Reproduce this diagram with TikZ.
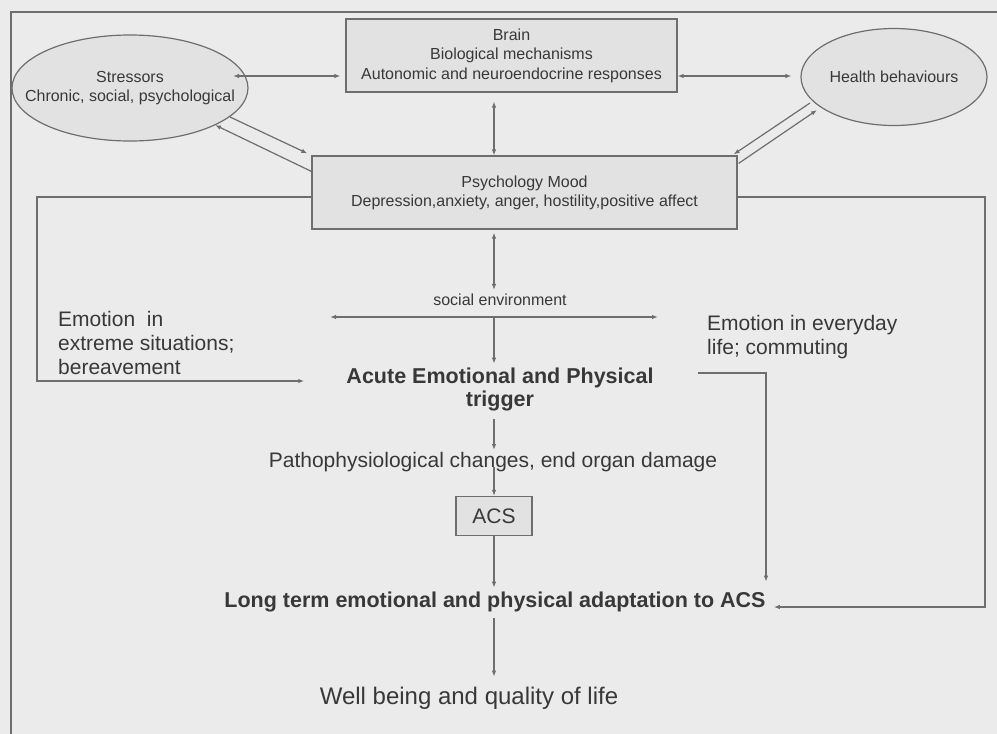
\documentclass[tikz,border=0pt]{standalone}
\usepackage{fontspec}
\setmainfont{Liberation Sans}
\usetikzlibrary{shapes.geometric,arrows.meta,calc}
\definecolor{paper}{HTML}{EBEBEB}
\definecolor{ink}{HTML}{383838}
\definecolor{rule}{HTML}{6E6E6E}
\definecolor{shade}{HTML}{E2E2E2}

\begin{document}
\begin{tikzpicture}[x=1pt,y=-1pt,
  every node/.style={text=ink, inner sep=0pt},
  small/.style={font=\fontsize{16}{19}\selectfont},
  big/.style={font=\fontsize{21}{24}\selectfont},
  bigbold/.style={font=\bfseries\fontsize{21.5}{23}\selectfont},
  oval/.style={ellipse, draw=rule, fill=shade, line width=1.2pt},
  panel/.style={rectangle, draw=rule, fill=shade, line width=1.2pt, align=center, small},
  link/.style={draw=rule, line width=1.2pt, -{Latex[length=6pt,width=4.5pt]}},
  both/.style={link, {Latex[length=6pt,width=4.5pt]}-{Latex[length=6pt,width=4.5pt]}},
]
% page and outer frame
\fill[paper] (0,0) rectangle (997,734);
\useasboundingbox (0,0) rectangle (997,734);
\draw[rule, line width=1.2pt] (11,734) -- (11,12) -- (997,12);

% top row
\node[oval, minimum width=236pt, minimum height=106pt] (stress) at (130,88) {};
\node[small, align=center] (stresstxt) at (stress) {Stressors\\Chronic, social, psychological};
\node[panel, minimum width=331pt, minimum height=73pt, font=\fontsize{16}{19.5}\selectfont] (brain) at (511.5,55.5)
  {Brain\\Biological mechanisms\\Autonomic and neuroendocrine responses};
\node[oval, minimum width=186pt, minimum height=97pt] (health) at (894,77) {};
\node[small] (healthtxt) at (health) {Health behaviours};

% mood box
\node[panel, minimum width=425pt, minimum height=73pt] (psych) at (524.5,192.5)
  {Psychology Mood\\Depression,anxiety, anger, hostility,positive affect};

% middle texts
\node[big, align=left, anchor=west] (extreme) at (58,343) {Emotion\ \ in\\extreme situations;\\bereavement};
\node[big, align=left, anchor=west] (everyday) at (707,337) {Emotion in everyday\\life; commuting};
\node[small] (social) at (500,300) {social environment};
\node[bigbold, align=center] (acute) at (500,389.5) {Acute Emotional and Physical\\trigger};

% lower chain
\node[big] (patho) at (493,462) {Pathophysiological changes, end organ damage};
\node[panel, big, minimum width=76pt, minimum height=39pt] (acs) at (494,516) {ACS};
\node[bigbold] (longterm) at (495,602) {Long term emotional and physical adaptation to ACS};
\node[font=\fontsize{24}{27}\selectfont] (wellbeing) at (469,698) {Well being and quality of life};

% bend points
\coordinate (lbend) at (37,381);
\coordinate (rbend) at (985,607);
\coordinate (hsplit) at (494,317);
\coordinate (tbend) at (766,373);

% top connectors
\draw[both] ($(stress.center)+(103,-12)$) -- ($(brain.west)+(-5,20.5)$);
\draw[both] ($(brain.east)+(0,20.5)$) -- ($(health.west)+(-9,-1)$);
\draw[both] ($(brain.south)+(-17.5,9)$) -- ($(psych.north)+(-30.5,0)$);
\draw[link] ($(stress.center)+(100,29)$) -- ($(psych.north west)+(-4,-2)$);
\draw[link] ($(psych.north west)+(0,16)$) -- ($(stress.center)+(85,37)$);
\draw[link] ($(health.center)+(-84,26)$) -- ($(psych.north east)+(-4,-1)$);
\draw[link] ($(psych.north east)+(1,8)$) -- ($(health.center)+(-77,33)$);

% feedback loops
\draw[link] ($(psych.west)+(0,4.5)$) -| (lbend) -- ($(acute.west)+(-42,-8.5)$);
\draw[link] ($(psych.east)+(0,4.5)$) -| (rbend) -- ($(longterm.east)+(8,5)$);

% social environment split
\draw[both] ($(psych.south)+(-30.5,3)$) -- ($(social.north)+(-6,-4)$);
\draw[both] ($(hsplit)+(-164,0)$) -- ($(hsplit)+(164,0)$);
\draw[link] (hsplit) -- ($(acute.north)+(-6,-4)$);

% trigger to long term adaptation
\draw[link] ($(acute.east)+(44,-16.5)$) -- (tbend) -- ($(tbend |- longterm.north)+(0,-10)$);

% main chain
\draw[link] ($(acute.south)+(-6,8)$) -- ($(patho.north)+(1,-2)$);
\draw[link] ($(patho.south)+(1,-5)$) -- (acs.north);
\draw[link] (acs.south) -- ($(longterm.north)+(-1,-4)$);
\draw[link] ($(longterm.south)+(-1,6)$) -- ($(wellbeing.north)+(25,-10)$);
\end{tikzpicture}
\end{document}
